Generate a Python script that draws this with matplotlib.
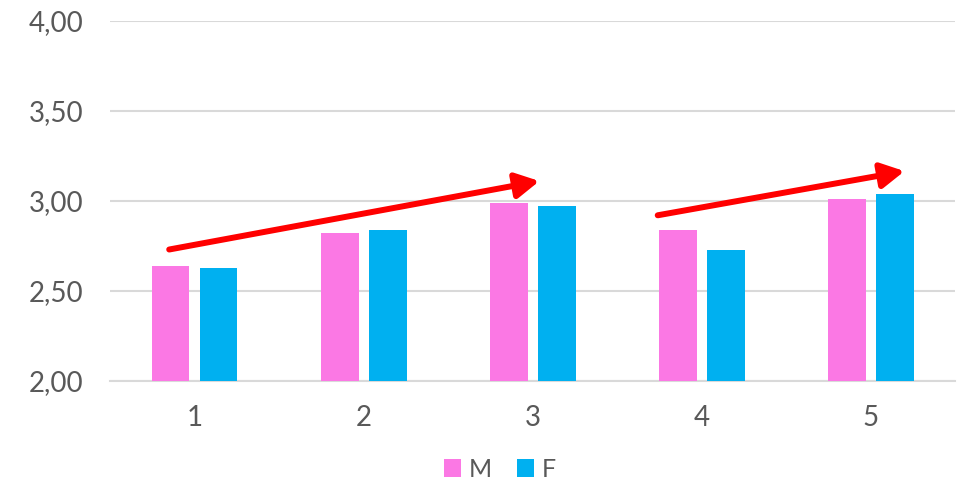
import numpy as np
import matplotlib.pyplot as plt
from matplotlib.ticker import FuncFormatter

categories = ['1', '2', '3', '4', '5']
m_values = [2.64, 2.82, 2.99, 2.84, 3.01]
f_values = [2.63, 2.84, 2.97, 2.73, 3.04]

# trend arrows: (x_tail, y_tail, x_head, y_head) in data units
trend_arrows = [
    (0.85, 2.73, 3.04, 3.11),
    (3.74, 2.92, 5.20, 3.165),
]

plt.rcParams['font.family'] = ['Lato', 'DejaVu Sans']
text_color = '#595959'
grid_color = '#d9d9d9'

fig = plt.figure(figsize=(9.61, 4.82), dpi=100)
ax = fig.add_axes([0.1145, 0.2095, 0.8795, 0.7475])

x = np.arange(1, len(categories) + 1)
width = 0.224
offset = 0.142

ax.bar(x - offset, np.array(m_values) - 2, width, bottom=2, color='#fb78e4', label='M', zorder=3)
ax.bar(x + offset, np.array(f_values) - 2, width, bottom=2, color='#00b0f0', label='F', zorder=3)

for x0, y0, x1, y1 in trend_arrows:
    ax.annotate('', xy=(x1, y1), xytext=(x0, y0),
                arrowprops=dict(arrowstyle='-|>,head_length=0.7,head_width=0.38',
                                mutation_scale=20, color='#ff0000', lw=4.3,
                                shrinkA=0, shrinkB=0),
                zorder=4)

ax.set_xlim(0.5, 5.5)
ax.set_ylim(2.0, 4.0)
ax.set_yticks([2.0, 2.5, 3.0, 3.5, 4.0])
ax.yaxis.set_major_formatter(FuncFormatter(lambda v, p: f'{v:.2f}'.replace('.', ',')))
ax.set_xticks(x)
ax.set_xticklabels(categories)

ax.grid(axis='y', color=grid_color, linewidth=1.5, zorder=0)
for side in ['top', 'right', 'left']:
    ax.spines[side].set_visible(False)
ax.spines['bottom'].set_color(grid_color)
ax.spines['bottom'].set_linewidth(1.5)
ax.tick_params(axis='both', length=0, labelsize=20, colors=text_color)
ax.tick_params(axis='y', pad=19)
ax.tick_params(axis='x', pad=17)

fig.legend(loc='center', bbox_to_anchor=(0.52, 0.026), ncol=2, frameon=False,
           fontsize=18, labelcolor=text_color, handlelength=0.7, handleheight=0.7,
           handletextpad=0.3, columnspacing=1.0)

plt.savefig('out.png', dpi=100)
